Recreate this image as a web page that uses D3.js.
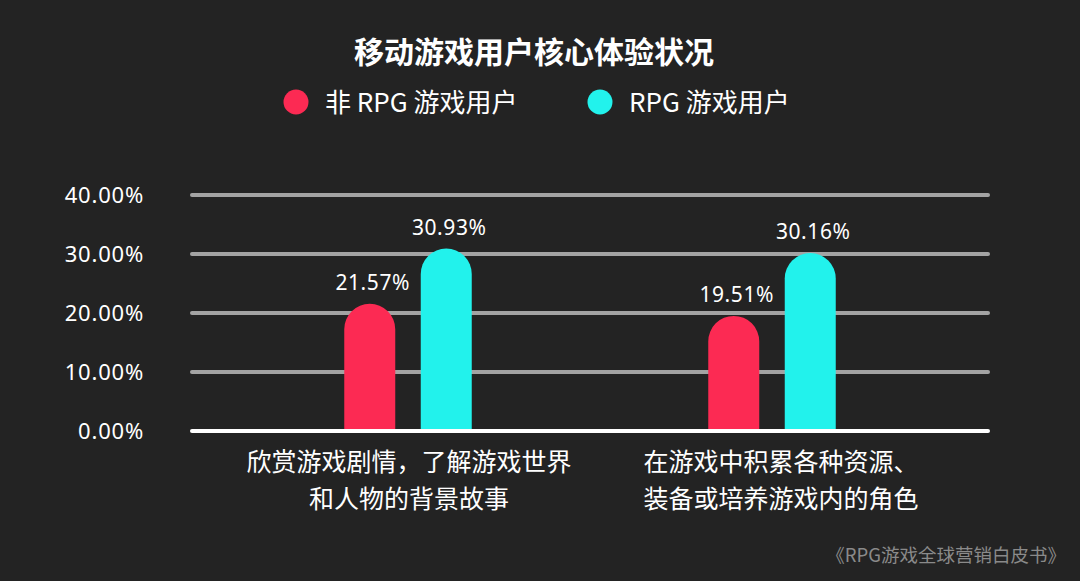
<!DOCTYPE html>
<html lang="zh">
<head>
<meta charset="UTF-8">
<title>移动游戏用户核心体验状况</title>
<script src="https://d3js.org/d3.v7.min.js"></script>
<style>
  html, body { margin: 0; padding: 0; background: #232323; }
  svg { display: block; }
  text { font-family: "Noto Sans", "Noto Sans CJK SC", sans-serif; }
</style>
</head>
<body>
<div id="chart"></div>
<script>
// data
const categories = [
  ["欣赏游戏剧情，了解游戏世界", "和人物的背景故事"],
  ["在游戏中积累各种资源、", "装备或培养游戏内的角色"]
];
const seriesNames = ["非 RPG 游戏用户", "RPG 游戏用户"];
const nonRpgValues = [21.57, 19.51];
const rpgValues = [30.93, 30.16];
const yTicks = [0, 10, 20, 30, 40];
const colors = ["#fc2a53", "#22f2ec"];

const W = 1080, H = 581;
const svg = d3.select("#chart").append("svg")
  .attr("width", W).attr("height", H);

svg.append("rect").attr("width", W).attr("height", H).attr("fill", "#232323");

// scales
const y = d3.scaleLinear().domain([0, 40]).range([431, 195]);
const x0 = d3.scaleBand().domain(d3.range(categories.length)).range([226, 954]);
const x1 = d3.scaleBand().domain(seriesNames).range([-63.75, 63.75]).paddingInner(1 / 3);
const gridX = [192, 988];

// title
svg.append("text")
  .attr("x", 534).attr("y", 63)
  .attr("text-anchor", "middle")
  .attr("fill", "#fff")
  .attr("font-size", 30)
  .attr("font-weight", "bold")
  .style("font-family", "'Noto Sans CJK SC', sans-serif")
  .text("移动游戏用户核心体验状况");

// legend
const legendX = [296, 600];
const legend = svg.selectAll(".legend")
  .data(seriesNames)
  .join("g")
  .attr("transform", (d, i) => `translate(${legendX[i]},102)`);
legend.append("circle").attr("r", 12.5).attr("fill", (d, i) => colors[i]);
legend.append("text")
  .attr("x", 29).attr("y", 9.5)
  .attr("fill", "#fff")
  .attr("font-size", 26)
  .style("font-family", "'Noto Sans CJK SC', sans-serif")
  .text(d => d);

// grid + y axis
const yAxis = svg.append("g")
  .attr("transform", `translate(${gridX[0]},0)`)
  .call(d3.axisLeft(y).tickValues(yTicks).tickSize(0).tickPadding(48)
    .tickFormat(d => d.toFixed(2) + "%"));
yAxis.select(".domain").remove();
yAxis.selectAll("text")
  .attr("fill", "#fff")
  .attr("font-size", 22)
  .attr("letter-spacing", 0.8)
  .style("font-family", "'Noto Sans', sans-serif");

svg.selectAll(".grid")
  .data(yTicks)
  .join("line")
  .attr("x1", gridX[0]).attr("x2", gridX[1])
  .attr("y1", d => y(d)).attr("y2", d => y(d))
  .attr("stroke", d => d === 0 ? "#ffffff" : "#a3a3a3")
  .attr("stroke-width", 4)
  .attr("stroke-linecap", "round");

// bars with rounded tops
const barData = [];
categories.forEach((c, i) => {
  barData.push({ cat: i, s: 0, v: nonRpgValues[i] });
  barData.push({ cat: i, s: 1, v: rpgValues[i] });
});
const bw = x1.bandwidth();
const r = bw / 2;

function barPath(d) {
  const cx = x0(d.cat) + x0.bandwidth() / 2 + x1(seriesNames[d.s]);
  const top = y(d.v), base = y(0) - 2;
  return `M${cx},${base}V${top + r}A${r},${r} 0 0 1 ${cx + bw},${top + r}V${base}Z`;
}

svg.selectAll(".bar")
  .data(barData)
  .join("path")
  .attr("d", barPath)
  .attr("fill", d => colors[d.s]);

// value labels
svg.selectAll(".val")
  .data(barData)
  .join("text")
  .attr("x", d => x0(d.cat) + x0.bandwidth() / 2 + x1(seriesNames[d.s]) + bw / 2 + 3)
  .attr("y", d => y(d.v) - 14)
  .attr("text-anchor", "middle")
  .attr("fill", "#fff")
  .attr("font-size", 21)
  .attr("letter-spacing", 0.6)
  .text(d => d.v.toFixed(2) + "%");

// category labels
const catG = svg.selectAll(".cat")
  .data(categories)
  .join("text")
  .attr("text-anchor", "middle")
  .attr("fill", "#fff")
  .attr("font-size", 25)
  .style("font-family", "'Noto Sans CJK SC', sans-serif")
  .attr("transform", (d, i) => `translate(${x0(i) + x0.bandwidth() / 2 + (i ? 9 : 1)},0)`);
catG.selectAll("tspan")
  .data(d => d)
  .join("tspan")
  .attr("x", 0)
  .attr("y", (d, j) => 471 + j * 37)
  .text(d => d);

// source
svg.append("text")
  .attr("x", 1066).attr("y", 562)
  .attr("text-anchor", "end")
  .attr("fill", "#8a8a8a")
  .attr("font-size", 18.5)
  .style("font-family", "'Noto Sans CJK SC', sans-serif")
  .text("《RPG游戏全球营销白皮书》");
</script>
</body>
</html>
